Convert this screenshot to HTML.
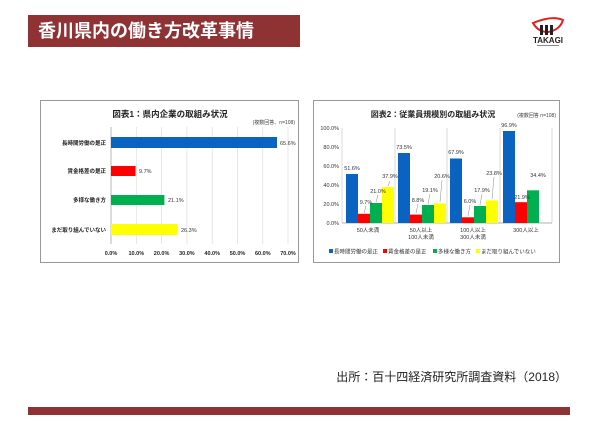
<!DOCTYPE html>
<html><head><meta charset="utf-8"><style>
body{margin:0;background:#fff;}
svg{display:block;font-family:"Liberation Sans","Noto Sans CJK JP",sans-serif;}
</style></head><body>
<svg width="600" height="424" viewBox="0 0 600 424" xmlns="http://www.w3.org/2000/svg">
<rect x="28" y="15" width="272" height="32" fill="#8e3234"/>
<text x="38" y="37" font-size="18" font-weight="bold" fill="#fff">香川県内の働き方改革事情</text>
<path d="M533 23 Q552 15 563 20 Q560 30 548 32 Q538 32 533 23Z" fill="none" stroke="#e02020" stroke-width="2"/>
<rect x="540" y="25" width="3" height="10" fill="#222"/><rect x="545" y="25" width="3" height="10" fill="#222"/><rect x="550" y="25" width="3" height="10" fill="#222"/>
<text x="548" y="43" font-size="8" font-weight="bold" text-anchor="middle" fill="#222">TAKAGI</text>
<rect x="537" y="45" width="22" height="1" fill="#888"/>

<rect x="40.5" y="100.5" width="258" height="162" fill="#fff" stroke="#999"/>
<text x="170" y="117" font-size="8.5" font-weight="bold" text-anchor="middle" fill="#222">図表1：県内企業の取組み状況</text>
<text x="295" y="124" font-size="5" text-anchor="end" fill="#444">(複数回答、n=108)</text>
<g stroke="#ddd" stroke-width="0.7">
<line x1="136.3" y1="127" x2="136.3" y2="244"/><line x1="161.6" y1="127" x2="161.6" y2="244"/><line x1="186.9" y1="127" x2="186.9" y2="244"/><line x1="212.2" y1="127" x2="212.2" y2="244"/><line x1="237.5" y1="127" x2="237.5" y2="244"/><line x1="262.8" y1="127" x2="262.8" y2="244"/><line x1="288" y1="127" x2="288" y2="244"/>
</g>
<line x1="111" y1="127" x2="111" y2="244" stroke="#999" stroke-width="0.7"/>
<rect x="111" y="137" width="166" height="11" fill="#0b63c1"/>
<rect x="111" y="166" width="24.5" height="10" fill="#f00"/>
<rect x="111" y="195" width="53.4" height="10" fill="#00b050"/>
<rect x="111" y="224" width="66.5" height="11" fill="#ffff00"/>
<g font-size="5.5" fill="#333">
<text x="280" y="145">65.6%</text><text x="139" y="173">9.7%</text><text x="168" y="202">21.1%</text><text x="181" y="232">26.3%</text>
</g>
<g font-size="5.5" font-weight="bold" fill="#222" text-anchor="end">
<text x="106" y="145">長時間労働の是正</text><text x="106" y="173">賃金格差の是正</text><text x="106" y="202">多様な働き方</text><text x="106" y="232">まだ取り組んでいない</text>
</g>
<g font-size="5.5" font-weight="bold" fill="#222" text-anchor="middle">
<text x="111" y="255">0.0%</text><text x="136.3" y="255">10.0%</text><text x="161.6" y="255">20.0%</text><text x="186.9" y="255">30.0%</text><text x="212.2" y="255">40.0%</text><text x="237.5" y="255">50.0%</text><text x="262.8" y="255">60.0%</text><text x="288" y="255">70.0%</text>
</g>

<rect x="313.5" y="100.5" width="246" height="162" fill="#fff" stroke="#999"/>
<text x="433" y="117" font-size="8" font-weight="bold" text-anchor="middle" fill="#222">図表2：従業員規模別の取組み状況</text>
<text x="556" y="117" font-size="5" text-anchor="end" fill="#444">(複数回答 n=108)</text>
<g stroke="#ccc" stroke-width="0.7">
<line x1="342" y1="128" x2="342" y2="223"/><line x1="395" y1="128" x2="395" y2="223"/><line x1="447" y1="128" x2="447" y2="223"/><line x1="500" y1="128" x2="500" y2="223"/><line x1="552" y1="128" x2="552" y2="223"/>
</g>
<line x1="342" y1="223" x2="552" y2="223" stroke="#999" stroke-width="0.7"/>
<g font-size="5.5" fill="#333" text-anchor="end">
<text x="339" y="130">100.0%</text><text x="339" y="149">80.0%</text><text x="339" y="168">60.0%</text><text x="339" y="187">40.0%</text><text x="339" y="206">20.0%</text><text x="339" y="225">0.0%</text>
</g>
<rect x="346" y="174" width="12" height="49" fill="#0b63c1"/>
<rect x="358" y="213.8" width="12" height="9.2" fill="#f00"/>
<rect x="370" y="203" width="12" height="20" fill="#00b050"/>
<rect x="382" y="187" width="12" height="36" fill="#ffff00"/>
<rect x="398" y="153" width="12" height="70" fill="#0b63c1"/>
<rect x="410" y="214.6" width="12" height="8.4" fill="#f00"/>
<rect x="422" y="205" width="12" height="18" fill="#00b050"/>
<rect x="434" y="203.4" width="12" height="19.6" fill="#ffff00"/>
<rect x="450" y="158.5" width="12" height="64.5" fill="#0b63c1"/>
<rect x="462" y="217.3" width="12" height="5.7" fill="#f00"/>
<rect x="474" y="206" width="12" height="17" fill="#00b050"/>
<rect x="486" y="200.4" width="12" height="22.6" fill="#ffff00"/>
<rect x="503" y="131" width="12" height="92" fill="#0b63c1"/>
<rect x="515" y="202.2" width="12" height="20.8" fill="#f00"/>
<rect x="527" y="190.3" width="12" height="32.7" fill="#00b050"/>
<g stroke="#888" stroke-width="0.5">
<line x1="364" y1="213" x2="366" y2="206"/><line x1="376" y1="202" x2="378" y2="195"/><line x1="388" y1="186" x2="390" y2="181"/>
<line x1="416" y1="213" x2="418" y2="204"/><line x1="428" y1="204" x2="430" y2="194"/><line x1="440" y1="202" x2="442" y2="180"/>
<line x1="468" y1="216" x2="470" y2="205"/><line x1="480" y1="205" x2="482" y2="194"/><line x1="492" y1="199" x2="494" y2="177"/>
</g>
<g font-size="5.5" fill="#333" text-anchor="middle">
<text x="352" y="170">51.6%</text><text x="366" y="204">9.7%</text><text x="378" y="193">21.0%</text><text x="390" y="178">37.9%</text>
<text x="404" y="149">73.5%</text><text x="418" y="202">8.8%</text><text x="430" y="192">19.1%</text><text x="442" y="178">20.6%</text>
<text x="456" y="154">67.9%</text><text x="470" y="203">6.0%</text><text x="482" y="192">17.9%</text><text x="494" y="175">23.8%</text>
<text x="509" y="127">96.9%</text><text x="522" y="199">21.9%</text><text x="538" y="177">34.4%</text>
</g>
<g font-size="5.5" fill="#333" text-anchor="middle">
<text x="368" y="232">50人未満</text><text x="421" y="232">50人以上</text><text x="421" y="239">100人未満</text>
<text x="473" y="232">100人以上</text><text x="473" y="239">300人未満</text><text x="526" y="232">300人以上</text>
</g>
<g font-size="5.5" fill="#333">
<rect x="329" y="249" width="4" height="4" fill="#0b63c1"/><text x="334" y="253.5">長時間労働の是正</text>
<rect x="383" y="249" width="4" height="4" fill="#f00"/><text x="388" y="253.5">賃金格差の是正</text>
<rect x="433" y="249" width="4" height="4" fill="#00b050"/><text x="438" y="253.5">多様な働き方</text>
<rect x="476" y="249" width="4" height="4" fill="#ffff00"/><text x="481" y="253.5">まだ取り組んでいない</text>
</g>

<text x="567" y="381" font-size="12" text-anchor="end" fill="#222">出所：百十四経済研究所調査資料（2018）</text>
<rect x="28" y="407" width="542" height="8" fill="#8e3234"/>
</svg>
</body></html>
